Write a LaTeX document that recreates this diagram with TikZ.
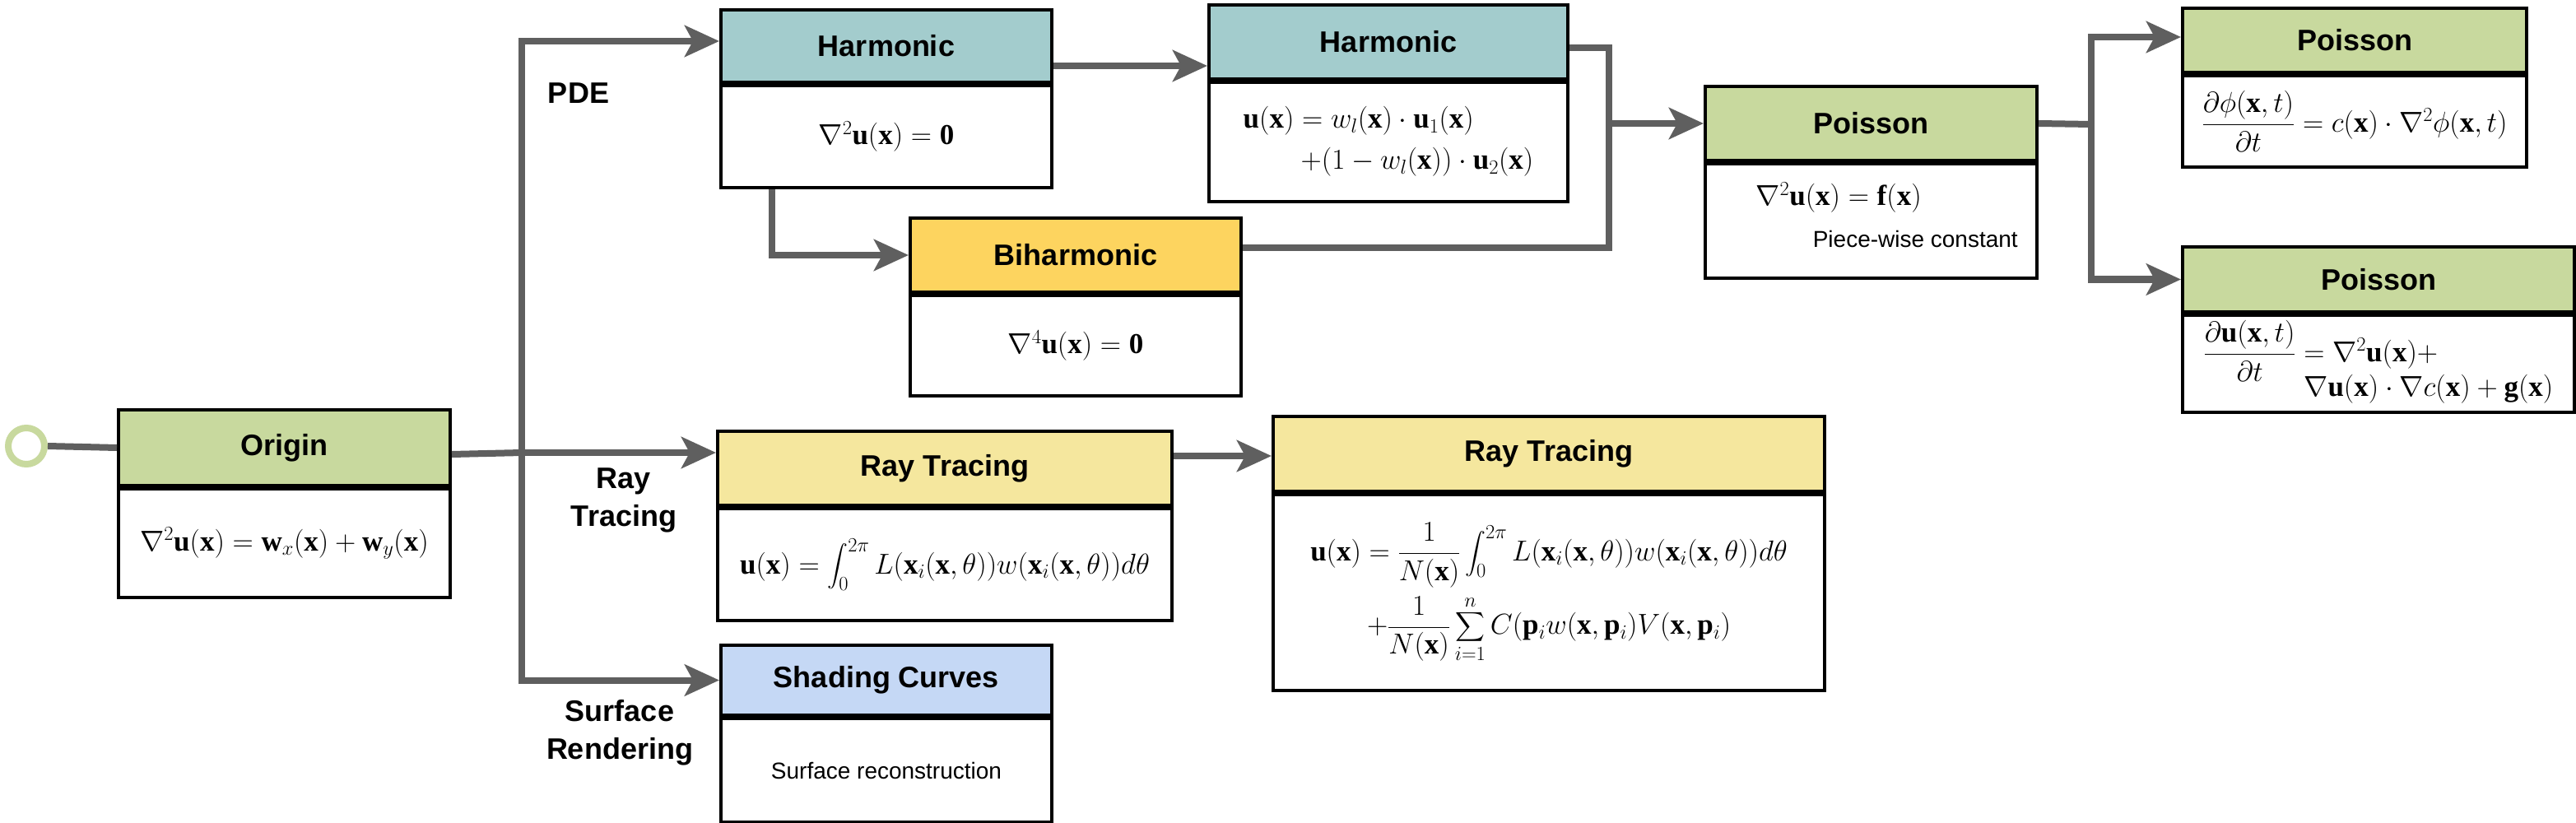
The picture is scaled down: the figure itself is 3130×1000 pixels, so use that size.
\RequirePackage{fix-cm}
\documentclass[tikz,border=0pt]{standalone}
\usepackage{amsmath}
\usepackage{fontspec}
\setmainfont{Liberation Serif}
\setsansfont{Liberation Sans}
\usetikzlibrary{arrows.meta,calc}
\definecolor{lgray}{RGB}{95,95,95}
\definecolor{cgreen}{RGB}{200,217,158}
\definecolor{cteal}{RGB}{163,204,205}
\definecolor{corange}{RGB}{253,212,95}
\definecolor{cyellow}{RGB}{245,231,158}
\definecolor{cblue}{RGB}{197,216,245}
\tikzset{
 hdr/.style={draw=black, line width=4pt, inner sep=0pt, anchor=north west, font=\fontsize{36}{40}\selectfont\sffamily\bfseries},
 bodyb/.style={draw=black, line width=4pt, fill=white, inner sep=0pt, anchor=north west, font=\fontsize{35}{42}\selectfont},
 conn/.style={draw=lgray, line width=8pt},
 arr/.style={conn, -{Stealth[length=42pt, width=38pt, inset=10pt]}},
 lbl/.style={font=\fontsize{36}{46}\selectfont\sffamily\bfseries, align=center, inner sep=0pt},
 note/.style={font=\fontsize{28}{32}\selectfont\sffamily, inner sep=0pt},
 eqn/.style={font=\fontsize{35}{42}\selectfont, inner sep=0pt},
}
\begin{document}
\begin{tikzpicture}[x=1pt,y=-1pt]
\useasboundingbox (0,0) rectangle (3130,1000);
% boxes
\node[hdr, fill=cgreen, minimum width=403pt, minimum height=92pt] (orig) at (142,496) {Origin};
\node[bodyb, minimum width=403pt, minimum height=132pt] (origb) at (orig.south west) {$\nabla^2\mathbf u(\mathbf x)=\mathbf w_x(\mathbf x)+\mathbf w_y(\mathbf x)$};

\node[hdr, fill=cteal, minimum width=402pt, minimum height=88pt] (h1) at (874,10) {Harmonic};
\node[bodyb, minimum width=402pt, minimum height=124pt] (h1b) at (h1.south west) {$\nabla^2\mathbf u(\mathbf x)=\mathbf 0$};

\node[hdr, fill=cteal, minimum width=436pt, minimum height=90pt] (h2) at (1467,4) {Harmonic};
\node[bodyb, minimum width=436pt, minimum height=145pt] (h2b) at (h2.south west) {$\begin{array}{@{}l@{}}\mathbf u(\mathbf x)=w_l(\mathbf x)\cdot\mathbf u_1(\mathbf x)\\[8pt] \multicolumn{1}{@{}r@{}}{\qquad{+}(1-w_l(\mathbf x))\cdot\mathbf u_2(\mathbf x)}\end{array}$};

\node[hdr, fill=corange, minimum width=402pt, minimum height=90pt] (bih) at (1104,263) {Biharmonic};
\node[bodyb, minimum width=402pt, minimum height=122pt] (bihb) at (bih.south west) {$\nabla^4\mathbf u(\mathbf x)=\mathbf 0$};

\node[hdr, fill=cgreen, minimum width=403pt, minimum height=90pt] (pc) at (2070,103) {Poisson};
\node[bodyb, minimum width=403pt, minimum height=139pt] (pcb) at (pc.south west) {};
\node[eqn] (pceq) at (2234,240) {$\nabla^2\mathbf u(\mathbf x)=\mathbf f(\mathbf x)$};
\node[note, anchor=east] (pcnote) at (2452,290) {Piece-wise constant};

\node[hdr, fill=cgreen, minimum width=418pt, minimum height=78pt] (pa) at (2650,8) {Poisson};
\node[bodyb, minimum width=418pt, minimum height=111pt] (pab) at (pa.south west) {$\dfrac{\partial\phi(\mathbf x,t)}{\partial t}=c(\mathbf x)\cdot\nabla^2\phi(\mathbf x,t)$};

\node[hdr, fill=cgreen, minimum width=476pt, minimum height=79pt] (pb) at (2650,298) {Poisson};
\node[bodyb, minimum width=476pt, minimum height=118pt] (pbb) at (pb.south west) {$\dfrac{\partial\mathbf u(\mathbf x,t)}{\partial t}\begin{array}[t]{@{}l@{}}{}=\nabla^2\mathbf u(\mathbf x){+}\\ \;\nabla\mathbf u(\mathbf x)\cdot\nabla c(\mathbf x)+\mathbf g(\mathbf x)\end{array}$};

\node[hdr, fill=cyellow, minimum width=552pt, minimum height=90pt] (rt1) at (870,522) {Ray Tracing};
\node[bodyb, minimum width=552pt, minimum height=136pt] (rt1b) at (rt1.south west) {$\mathbf u(\mathbf x)=\displaystyle\int_0^{2\pi}L(\mathbf x_i(\mathbf x,\theta))w(\mathbf x_i(\mathbf x,\theta))d\theta$};

\node[hdr, fill=cyellow, minimum width=670pt, minimum height=91pt] (rt2) at (1545,504) {Ray Tracing};
\node[bodyb, minimum width=670pt, minimum height=238pt] (rt2b) at (rt2.south west) {$\begin{array}{c}\displaystyle\mathbf u(\mathbf x)=\frac{1}{N(\mathbf x)}\int_0^{2\pi}L(\mathbf x_i(\mathbf x,\theta))w(\mathbf x_i(\mathbf x,\theta))d\theta\\[30pt] \displaystyle{+}\frac{1}{N(\mathbf x)}\sum_{i=1}^{n}C(\mathbf p_iw(\mathbf x,\mathbf p_i)V(\mathbf x,\mathbf p_i)\end{array}$};

\node[hdr, fill=cblue, minimum width=402pt, minimum height=85pt] (sh) at (874,782) {Shading Curves};
\node[bodyb, minimum width=402pt, minimum height=126pt] (shb) at (sh.south west) {};
\node[note] (shnote) at (shb.center) {Surface reconstruction};

% labels
\node[lbl] (pde) at (703,113) {PDE};
\node[lbl] (rtl) at (758,608) {Ray\\Tracing};
\node[lbl] (srl) at (753,890) {Surface\\Rendering};

% start circle
\node[circle, draw=cgreen, line width=8pt, minimum size=44pt, inner sep=0pt, fill=white] (start) at (32,542) {};

% connectors
\coordinate (tr) at (634,550);
\coordinate (mj) at (1955,150);
\coordinate (sp) at (2541,151);
\draw[conn] (start.east) -- (orig.west);
\draw[conn] ([yshift=-8pt]orig.east) -- (tr);
\draw[arr] (tr) |- ([yshift=6pt]h1.west);
\draw[arr] (tr) |- (sh.west);
\draw[arr] (tr) -- (rt1.west |- tr);
\draw[arr] ([xshift=64pt]h1b.south west) |- (bih.west);
\draw[arr] ([yshift=-24pt]h1.east) -- ([yshift=-24pt]h1.east -| h2.west);
\draw[conn] ([yshift=-7pt]h2.east) -| (mj) |- ([yshift=9pt]bih.east);
\draw[arr] (mj) -- (mj -| pc.west);
\draw[conn] (pc.east) -- (sp);
\draw[arr] (sp) |- ([yshift=4pt]pa.west);
\draw[arr] (sp) |- (pb.west);
\draw[arr] ([yshift=15pt]rt1.east) -- ([yshift=15pt]rt1.east -| rt2.west);
\end{tikzpicture}
\end{document}
